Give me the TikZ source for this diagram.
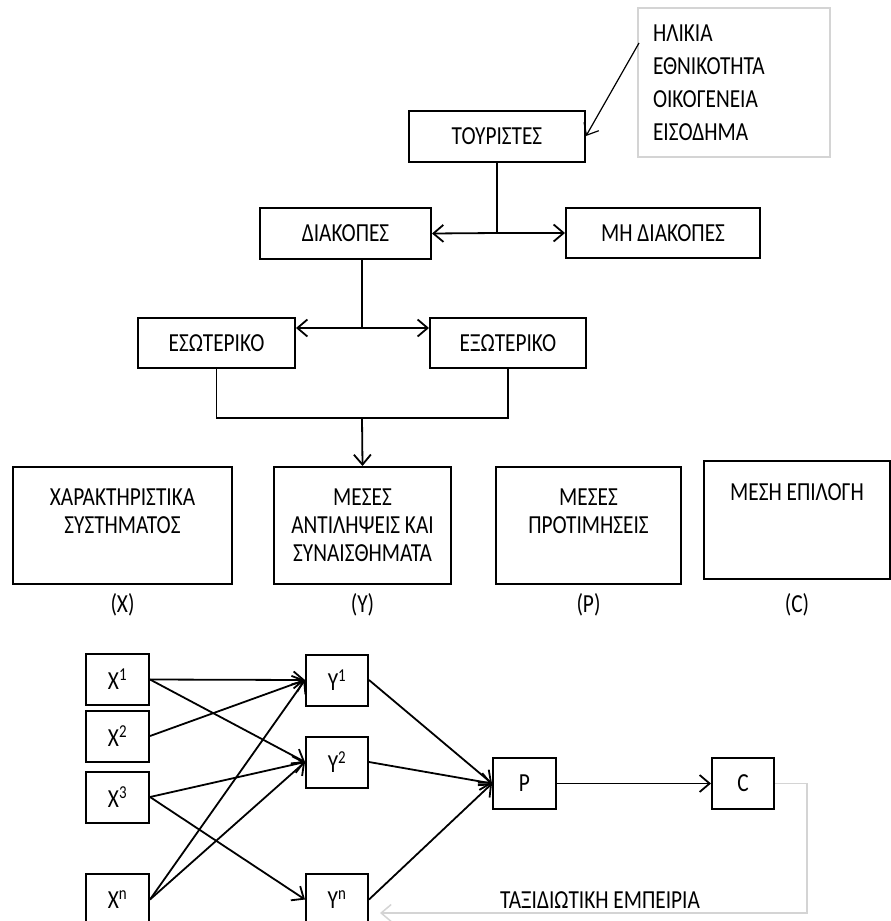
\documentclass[tikz,border=0pt]{standalone}
\usepackage{fontspec}
\setmainfont{Carlito}[FakeStretch=0.82]
\usetikzlibrary{arrows.meta, positioning}
\colorlet{framegrey}{black!17}

\tikzset{
  box/.style={draw=black, line width=2pt, minimum height=51pt, inner sep=0pt, font=\fontsize{26}{28}\selectfont},
  bigbox/.style={box, minimum height=117pt, align=center},
  conn/.style={line width=1.8pt, ->},
  lbl/.style={inner sep=0pt, font=\fontsize{26}{28}\selectfont},
}

\begin{document}
\begin{tikzpicture}[x=1pt, y=-1pt, >={Straight Barb[length=10pt,width=17pt]}]
  \clip (0,0) rectangle (891,921);

  % who travels
  \node[draw=framegrey, line width=1.4pt, inner sep=0pt, minimum width=192pt, minimum height=149pt,
        text width=162pt, align=left, font=\fontsize{26}{33}\selectfont] (factors) at (734,82.5)
        {ΗΛΙΚΙΑ\\ΕΘΝΙΚΟΤΗΤΑ\\ΟΙΚΟΓΕΝΕΙΑ\\ΕΙΣΟΔΗΜΑ};
  \coordinate (fa) at (639,43);
  \node[box, minimum width=176pt] (tour) at (497,136) {ΤΟΥΡΙΣΤΕΣ};
  \draw[->, line width=1.2pt] (fa) -- (tour.east);

  \node[box, minimum width=171pt] (vac) at (345.5,233.5) {ΔΙΑΚΟΠΕΣ};
  \node[box, minimum width=194pt, minimum height=50pt] (novac) at (663,233) {ΜΗ ΔΙΑΚΟΠΕΣ};
  \coordinate (split1) at (tour.south |- novac.west);
  \draw[line width=1.8pt] (tour.south) -- (split1);
  \draw[conn] (split1) -- (vac.east);
  \draw[conn] (split1) -- (novac.west);

  \node[box, minimum width=157pt, minimum height=50pt] (dom) at (216.5,343) {ΕΣΩΤΕΡΙΚΟ};
  \node[box, minimum width=156pt, minimum height=50pt] (abr) at (508,343) {ΕΞΩΤΕΡΙΚΟ};
  \coordinate (split2) at (362,328);
  \draw[line width=1.8pt] (split2 |- vac.south) -- (split2);
  \draw[conn] (split2) -- (split2 -| dom.east);
  \draw[conn] (split2) -- (split2 -| abr.west);

  % model stages
  \node[bigbox, minimum width=219pt] (sys) at (122.5,525.5) {ΧΑΡΑΚΤΗΡΙΣΤΙΚΑ\\ΣΥΣΤΗΜΑΤΟΣ\\\mbox{}};
  \node[bigbox, minimum width=177pt] (percep) at (362.5,525.5) {ΜΕΣΕΣ\\ΑΝΤΙΛΗΨΕΙΣ ΚΑΙ\\ΣΥΝΑΙΣΘΗΜΑΤΑ};
  \node[bigbox, minimum width=185pt] (pref) at (588.5,525.5) {ΜΕΣΕΣ\\ΠΡΟΤΙΜΗΣΕΙΣ\\\mbox{}};
  \node[bigbox, minimum width=186pt, minimum height=118pt] (choice) at (797,520) {ΜΕΣΗ ΕΠΙΛΟΓΗ\\\mbox{}\\\mbox{}};
  \node[lbl] (xlab) at (122.5,605) {(X)};
  \node[lbl] (ylab) at (362.5,605) {(Y)};
  \node[lbl] (plab) at (588.5,605) {(P)};
  \node[lbl] (clab) at (797,605) {(C)};

  \coordinate (merge) at (362,418);
  \draw[line width=1.8pt] (dom.south) -- (dom.south |- merge) -- (abr.south |- merge) -- (abr.south);
  \draw[conn] (merge) -- (percep.north);

  % network
  \foreach \n/\y/\t in {x1/679.5/1, x2/736/2, x3/797/3, xn/899.5/n}
    \node[box, minimum width=63pt] (\n) at (117.5,\y) {X\textsuperscript{\t}};
  \foreach \n/\y/\t in {y1/680/1, y2/762/2, yn/899.5/n}
    \node[box, minimum width=62pt] (\n) at (337,\y) {Y\textsuperscript{\t}};
  \node[box, minimum width=63pt] (p) at (524.5,783.5) {P};
  \node[box, minimum width=62pt] (c) at (743,783.5) {C};

  \foreach \a/\b in {x1/y1, x1/y2, x2/y1, x3/y2, x3/yn, xn/y1, xn/y2}
    \draw[conn] (\a.east) -- (\b.west);
  \foreach \a in {y1, y2, yn}
    \draw[conn] (\a.east) -- (p.west);
  \draw[conn] (p) -- (c);

  % feedback
  \coordinate (fb1) at (807,783.5);
  \coordinate (fb2) at (807,913);
  \coordinate (fb3) at (380,913);
  \draw[->, draw=framegrey, line width=1.5pt] (c.east) -- (fb1) -- (fb2) -- (fb3);
  \node[lbl] (exp) at (600,900) {ΤΑΞΙΔΙΩΤΙΚΗ ΕΜΠΕΙΡΙΑ};
\end{tikzpicture}
\end{document}
